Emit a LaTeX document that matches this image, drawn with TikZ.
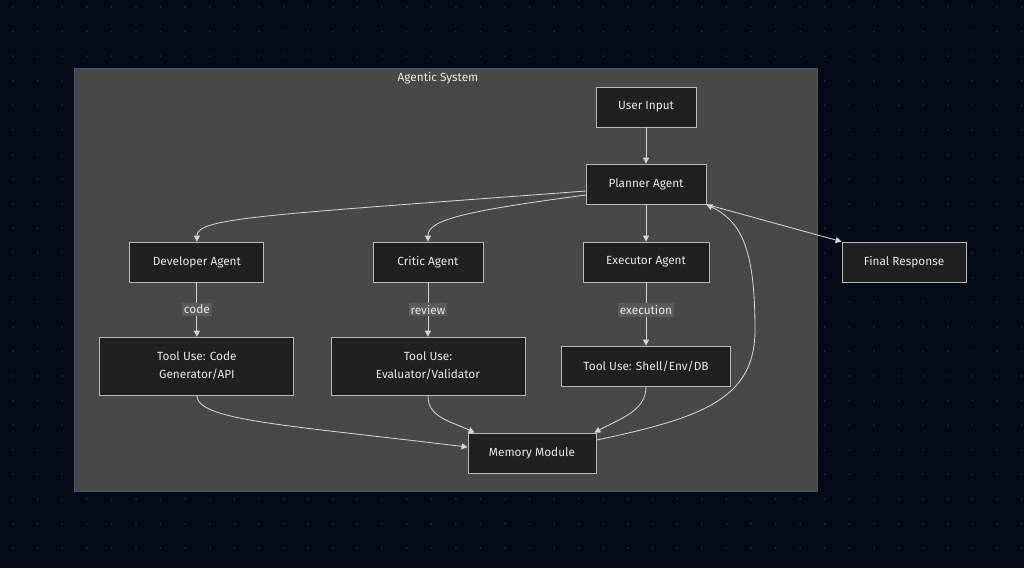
\documentclass[tikz,border=0pt]{standalone}
\usepackage{fontspec}
\setmainfont{Fira Sans}
\usetikzlibrary{arrows.meta, positioning}

\definecolor{bgnavy}{RGB}{4,9,24}
\definecolor{dotgray}{RGB}{36,42,58}
\definecolor{groupfill}{RGB}{71,72,71}
\definecolor{groupline}{RGB}{82,83,88}
\definecolor{boxfill}{RGB}{31,32,32}
\definecolor{boxline}{RGB}{185,185,185}
\definecolor{textc}{RGB}{232,232,232}
\definecolor{linec}{RGB}{212,212,212}
\definecolor{tagfill}{RGB}{90,90,90}

\newcommand{\agentfont}{\fontsize{8.4}{12.8}\selectfont}

\begin{document}
\begin{tikzpicture} [x=0.025cm, y=-0.025cm, node distance = 2cm, on grid,
    agent/.style = {draw=boxline, fill=boxfill, text=textc, line width=0.6pt,
                    minimum height=1cm, align=center, font=\agentfont},
    flow/.style = {-{Triangle[length=1.5mm, width=1.5mm]}, draw=linec, line width=0.6pt},
    tag/.style = {fill=tagfill, text=textc, inner sep=1.5pt, font=\agentfont}]

    % backdrop
    \fill [bgnavy] (0,0) rectangle (1024,568);
    \foreach \i in {0,...,41}
        \foreach \j in {0,...,22}
            \fill [dotgray] (13+24.6*\i, 7+24.6*\j) circle (0.7pt);

    % Agentic System group
    \draw [groupline, fill=groupfill, line width=0.5pt] (74,68) rectangle (817,491);
    \node (systitle) [text=textc, font=\agentfont] at (438,78) {Agentic System};

    \node (user) [agent, minimum width=2.5cm] at (646,107) {User Input};
    \node (planner) [agent, minimum width=3cm, below = 1.925cm of user] {Planner Agent};
    \node (executor) [agent, minimum width=3.15cm, below = 1.95cm of planner] {Executor Agent};
    \node (critic) [agent, minimum width=2.75cm, left = 5.45cm of executor] {Critic Agent};
    \node (developer) [agent, minimum width=3.35cm, left = 5.775cm of critic] {Developer Agent};
    \node (final) [agent, minimum width=3.1cm, right = 6.45cm of executor] {Final Response};
    \node (shelltool) [agent, minimum width=4.225cm, below = 2.6cm of executor] {Tool Use: Shell/Env/DB};
    \node (evaltool) [agent, minimum width=4.85cm, minimum height=1.45cm, below = 2.6cm of critic] {Tool Use:\\Evaluator/Validator};
    \node (codetool) [agent, minimum width=4.85cm, minimum height=1.45cm, below = 2.6cm of developer] {Tool Use: Code\\Generator/API};
    \node (memory) [agent, minimum width=3.2cm, below right = 2.175cm and 2.6cm of evaltool] {Memory Module};
    \coordinate (loopside) at (755,330);

    \draw [flow] (user) -- (planner);
    \draw [flow] ([yshift=-0.175cm]planner.west) .. controls +(-320,24) and +(0,-24) .. (developer.north);
    \draw [flow] ([yshift=-0.275cm]planner.west) .. controls +(-120,16) and +(0,-22) .. (critic.north);
    \draw [flow] (planner) -- (executor);
    \draw [flow] (planner.south east) -- (final.north west);

    \draw [flow] (developer) -- node [tag] {code} (codetool);
    \draw [flow] (critic) -- node [tag] {review} (evaltool);
    \draw [flow] (executor) -- node [tag, pos=0.44] {execution} (shelltool);

    \draw [flow] (codetool.south) .. controls +(0,25) and +(-180,-22) .. ([yshift=0.15cm]memory.west);
    \draw [flow] (evaltool.south) .. controls +(0,22) and +(-25,-12) .. ([xshift=0.175cm]memory.north west);
    \draw [flow] (shelltool.south) .. controls +(0,25) and +(25,-14) .. ([xshift=-0.05cm]memory.north east);
    \draw [flow] ([yshift=0.325cm]memory.east) .. controls (700,418) and (755,400) .. (loopside)
        .. controls (755,250) and (742,222) .. (planner.south east);

\end{tikzpicture}
\end{document}
